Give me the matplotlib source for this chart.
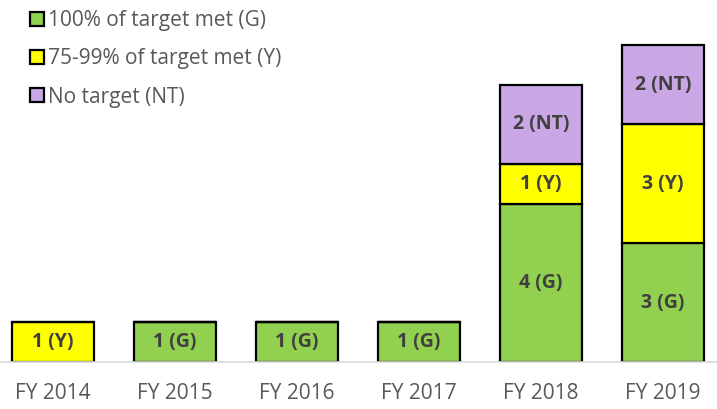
import numpy as np
import matplotlib
matplotlib.use("Agg")
import matplotlib.pyplot as plt

plt.rcParams['font.family'] = ['Open Sans', 'DejaVu Sans']

years = ['FY 2014', 'FY 2015', 'FY 2016', 'FY 2017', 'FY 2018', 'FY 2019']
green = [0, 1, 1, 1, 4, 3]
yellow = [1, 0, 0, 0, 1, 3]
no_target = [0, 0, 0, 0, 2, 2]

series = [
    (green, 'G', '#92D050', '100% of target met (G)'),
    (yellow, 'Y', '#FFFF00', '75-99% of target met (Y)'),
    (no_target, 'NT', '#C9A6E4', 'No target (NT)'),
]

fig = plt.figure(figsize=(7.17, 4.09), dpi=100)
ax = fig.add_axes([-8 / 717, 47 / 409, 732 / 717, 336.6 / 409])

x = np.arange(len(years))
bottom = np.zeros(len(years))
handles = []
for vals, tag, color, label in series:
    vals = np.array(vals)
    bars = ax.bar(x, vals, 0.67, bottom=bottom, color=color,
                  edgecolor='black', linewidth=1.6, label=label)
    handles.append(bars)
    for xi, v, b in zip(x, vals, bottom):
        if v > 0:
            ax.text(xi, b + v / 2, f'{v} ({tag})', ha='center', va='center',
                    fontsize=14, fontweight='bold', color='#404040')
    bottom = bottom + vals

ax.set_xlim(-0.5, 5.5)
ax.set_ylim(0, 8.5)
ax.set_yticks([])
ax.set_xticks(x)
ax.set_xticklabels(years, fontsize=15, color='#595959')
ax.tick_params(axis='x', length=0, pad=15)
for side in ['top', 'right', 'left']:
    ax.spines[side].set_visible(False)
ax.spines['bottom'].set_color('#D9D9D9')
ax.spines['bottom'].set_linewidth(1.2)

fig.legend(handles=handles, loc='upper left',
           bbox_to_anchor=(22 / 717, 1 - 2 / 409),
           frameon=False, fontsize=15, labelspacing=0.82, handlelength=0.65,
           handleheight=0.65, handletextpad=0.2, labelcolor='#595959',
           borderaxespad=0.0)

fig.savefig('out.png', dpi=100)
